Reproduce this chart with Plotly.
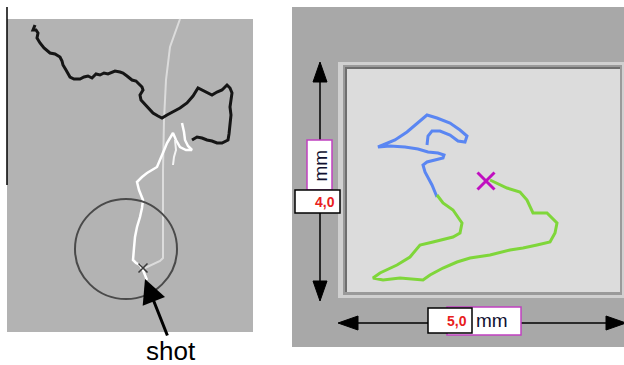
import plotly.graph_objects as go

# ---------------- data (pixel-space coordinates) ----------------
# Left panel: dark trace (aiming path)
black_x = [35, 33, 36, 38, 37, 40, 44, 50, 55, 60, 62, 63, 66, 70, 74, 80, 84, 88, 92, 96, 100, 104, 108, 115, 120, 123, 127,
           132, 136, 138, 142, 143, 140, 141, 145, 147, 150, 153, 158, 162, 167, 173, 180, 187, 193, 198, 202, 207, 212,
           217, 222, 227, 230, 232, 231, 230, 231, 230, 229, 228, 222, 217, 212, 207, 202, 197, 192]
black_y = [25, 30, 30, 33, 38, 43, 48, 53, 54, 57, 61, 65, 70, 77, 79, 79, 77, 76, 78, 74, 75, 73, 74, 71, 72, 73, 76,
           80, 81, 83, 87, 90, 95, 100, 104, 107, 110, 113, 116, 118, 115, 112, 108, 103, 96, 88, 90, 93, 95,
           92, 90, 85, 88, 93, 100, 107, 115, 127, 134, 140, 143, 143, 141, 140, 138, 137, 140]

# Left panel: white trace (final approach to the shot)
white_x = [182, 184, 185, 188, 192, 186, 180, 176, 173, 170, 167, 165, 163, 160, 157, 152, 147, 142, 137, 139, 143,
           142, 140, 137, 135, 134, 133, 136, 140, 143, 147]
white_y = [123, 132, 140, 146, 150, 150, 147, 140, 133, 138, 143, 148, 153, 160, 167, 170, 173, 177, 182, 190, 200,
           208, 217, 227, 237, 248, 260, 263, 265, 270, 280]
white2_x = [175, 176, 174, 173]
white2_y = [140, 150, 157, 165]

# Left panel: faint reference line
faint_x = [180, 175, 170, 166, 164, 163, 163, 163, 160, 145]
faint_y = [19, 33, 47, 80, 120, 170, 220, 258, 261, 268]

# Right panel: blue trace (before the final phase)
blue_x = [437, 432, 425, 423, 427, 435, 443, 444, 438, 428, 418, 405, 390, 378, 385, 395, 407, 418, 427, 437,
          450, 460, 467, 465, 458, 450, 440, 432, 428, 427]
blue_y = [197, 185, 172, 165, 162, 160, 158, 155, 153, 152, 149, 147, 146, 147, 144, 140, 132, 123, 115, 118,
          123, 130, 136, 142, 141, 135, 131, 131, 136, 145]

# Right panel: green trace (final phase, ends at the shot)
green_x = [437, 443, 453, 462, 460, 453, 433, 420, 410, 397, 380, 373, 383, 400, 423, 430, 443, 457, 470, 490,
           510, 523, 537, 550, 555, 557, 547, 533, 527, 520, 507, 490]
green_y = [195, 203, 210, 223, 233, 237, 242, 245, 257, 265, 273, 278, 280, 278, 280, 275, 268, 262, 258, 255,
           250, 248, 245, 242, 233, 223, 213, 213, 200, 192, 188, 180]

# Shot positions
shot_left = (143, 268)
shot_right = (486, 181)

# Labels
label_shot = "shot"
label_unit = "mm"
label_h = "4,0"
label_w = "5,0"

fig = go.Figure()

def line(x, y, color, width):
    fig.add_trace(go.Scatter(x=x, y=y, mode="lines", line=dict(color=color, width=width),
                             hoverinfo="skip", showlegend=False))

shapes = []
def rect(x0, y0, x1, y1, fill, lc=None, lw=0):
    shapes.append(dict(type="rect", x0=x0, y0=y0, x1=x1, y1=y1, fillcolor=fill,
                       line=dict(color=lc or fill, width=lw), layer="below"))

# left panel background
rect(7, 19, 253, 332, "#b3b3b3")
shapes.append(dict(type="line", x0=7, y0=7, x1=7, y1=185, line=dict(color="black", width=1.5)))
shapes.append(dict(type="circle", x0=75, y0=199, x1=177, y1=299, line=dict(color="#4a4a4a", width=2), layer="above"))

# right panel background with bevel
rect(292, 7, 624, 347, "#a8a8a8")
rect(338, 62, 624, 298, "#d0d0d0")
rect(343, 65, 622, 295, "#9a9a9a")
rect(345, 67, 620, 292, "#6e6e6e")
rect(347, 69, 620, 292, "#dcdcdc")

# arrows (right panel)
shapes.append(dict(type="line", x0=320, y0=78, x1=320, y1=286, line=dict(color="black", width=1.5)))
shapes.append(dict(type="line", x0=352, y0=323, x1=612, y1=323, line=dict(color="black", width=1.5)))
for p in ["M320,62 L313,82 L327,82 Z", "M320,301 L313,281 L327,281 Z",
          "M338,323 L358,316 L358,330 Z", "M626,323 L606,316 L606,330 Z"]:
    shapes.append(dict(type="path", path=p, fillcolor="black", line=dict(color="black", width=1)))

# label boxes
shapes.append(dict(type="rect", x0=307, y0=140, x1=332, y1=190, fillcolor="white", line=dict(color="#c040c0", width=1.5)))
shapes.append(dict(type="rect", x0=295, y0=190, x1=340, y1=213, fillcolor="white", line=dict(color="black", width=1.5)))
shapes.append(dict(type="rect", x0=447, y0=307, x1=521, y1=335, fillcolor="white", line=dict(color="#c040c0", width=1.5)))
shapes.append(dict(type="rect", x0=428, y0=308, x1=472, y1=333, fillcolor="white", line=dict(color="black", width=1.5)))

# traces
line(faint_x, faint_y, "#dcdcdc", 2)
line(black_x, black_y, "#151515", 3)
line(white_x, white_y, "#ffffff", 2.5)
line(white2_x, white2_y, "#f4f4f4", 2)
line(blue_x, blue_y, "#5a86f2", 3)
line(green_x, green_y, "#7fd63a", 3)

fig.add_trace(go.Scatter(x=[shot_left[0]], y=[shot_left[1]], mode="markers",
                         marker=dict(symbol="x-thin", size=9, line=dict(color="#3a3a3a", width=1.5)),
                         hoverinfo="skip", showlegend=False))
fig.add_trace(go.Scatter(x=[shot_right[0]], y=[shot_right[1]], mode="markers",
                         marker=dict(symbol="x-thin", size=17, line=dict(color="#c010c0", width=3)),
                         hoverinfo="skip", showlegend=False))

font = "Liberation Sans, Arial, sans-serif"
annotations = [
    dict(x=shot_left[0] + 2, y=shot_left[1] + 11, ax=168, ay=337, xref="x", yref="y", axref="x", ayref="y",
         text="", showarrow=True, arrowhead=2, arrowsize=1.6, arrowwidth=3, arrowcolor="black"),
    dict(x=171, y=351, text=label_shot, showarrow=False, font=dict(family=font, size=26, color="black")),
    dict(x=319.5, y=166, text=label_unit, textangle=-90, showarrow=False,
         font=dict(family=font, size=19, color="#101030")),
    dict(x=337, y=202, text="<b>" + label_h + "</b>", xanchor="right", showarrow=False,
         font=dict(family=font, size=14, color="#e82020")),
    dict(x=469, y=321, text="<b>" + label_w + "</b>", xanchor="right", showarrow=False,
         font=dict(family=font, size=14, color="#e82020")),
    dict(x=474, y=320, text=label_unit, xanchor="left", showarrow=False,
         font=dict(family=font, size=19, color="#101030")),
]

fig.update_layout(
    width=624, height=365, margin=dict(l=0, r=0, t=0, b=0),
    paper_bgcolor="white", plot_bgcolor="white",
    xaxis=dict(range=[0, 624], visible=False, fixedrange=True),
    yaxis=dict(range=[365, 0], visible=False, fixedrange=True),
    shapes=shapes, annotations=annotations, showlegend=False,
)
fig.write_html("out.html", config={"displayModeBar": False},
               post_script="document.body.style.margin='0';document.body.style.padding='0';document.body.style.overflow='hidden';")
